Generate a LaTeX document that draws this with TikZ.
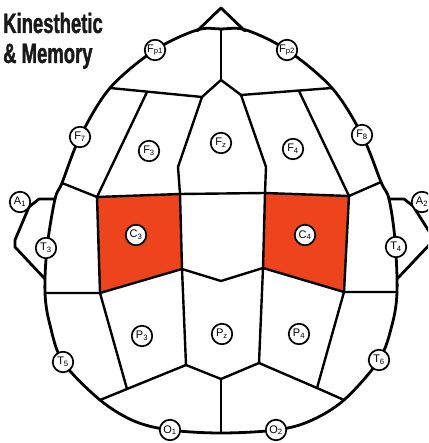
\documentclass[tikz,border=0pt]{standalone}
\usepackage{fontspec}
\setmainfont{Liberation Sans}
\newfontfamily\titleFont[FakeStretch=0.66,FakeBold=1.2]{Liberation Sans}
\usepackage{xcolor}
\usepackage{tikz}
\usetikzlibrary{positioning}
\definecolor{motorRed}{RGB}{238,68,30}
\tikzset{
    headEdge/.style={
        line width=2.8pt,
        line join=round,
        line cap=round
    },
    cellEdge/.style={
        line width=2.4pt,
        line join=round,
        line cap=round
    },
    motorArea/.style={
        cellEdge,
        fill=motorRed
    },
    electrode/.style={
        draw,
        circle,
        line width=1.7pt,
        fill=white,
        minimum size=20.5pt,
        inner sep=0pt,
        font=\fontsize{11}{11}\selectfont
    },
    titleText/.style={
        anchor=base west,
        inner sep=0pt,
        text=black!90,
        font=\titleFont\bfseries\fontsize{28}{30}\selectfont
    }
}

\begin{document}
\begin{tikzpicture}[x=1pt,y=-1pt]
        \useasboundingbox (0,0) rectangle (428,443);
        \clip (0,0) rectangle (428,443);

        \node[titleText] (titleTop) at (3,33) {Kinesthetic};
        \node[titleText] (titleBottom) at (3,63) {\& Memory};

        \filldraw[motorArea] (97,197) -- (180,194) -- (182,269) -- (100,293) -- cycle;
        \filldraw[motorArea] (265,193) -- (349,196) -- (344,292) -- (263,268) -- cycle;

        \draw[headEdge] plot[smooth cycle, tension=0.55] coordinates {
            (221,29) (246,30) (287,50) (332,88) (362,135) (381,182) (389,199)
            (395,240) (397,292) (392,325) (379,360) (344,400) (310,421) (276,430)
            (221,433) (170,430) (134,421) (100,400) (63,362) (50,325) (45,293)
            (47,248) (55,199) (62,183) (80,137) (110,88) (155,50) (197,30)};
        \draw[headEdge] (197,31) -- (221,8) -- (245,31);
        \draw[headEdge] (55,199) -- (39,199) -- (29,207) -- (15,240) -- (15,247) -- (45,279);
        \draw[headEdge] (389,199) -- (404,199) -- (413,206) -- (432,236) -- (432,242) -- (397,279);

        \draw[cellEdge] (221,29) -- (221,80);
        \draw[cellEdge] (110,88) -- (202,97) -- (221,80) -- (241,95) -- (332,88);
        \draw[cellEdge] (202,97) -- (178,167) -- (180,194) -- (265,193) -- (266,167) -- (241,95);
        \draw[cellEdge] (147,92) -- (97,197) -- (62,183);
        \draw[cellEdge] (299,91) -- (349,196) -- (381,182);
        \draw[cellEdge] (182,269) -- (221,281) -- (263,268);
        \draw[cellEdge] (182,269) -- (186,365) -- (221,379) -- (259,363) -- (263,268);
        \draw[cellEdge] (221,379) -- (221,433);
        \draw[cellEdge] (45,293) -- (100,293) -- (127,389) -- (186,365);
        \draw[cellEdge] (127,389) -- (100,400);
        \draw[cellEdge] (397,292) -- (344,292) -- (317,388) -- (259,363);
        \draw[cellEdge] (317,388) -- (344,400);

        \node[electrode] (fp1) at (155,50) {F\textsubscript{p1}};
        \node[electrode] (fp2) at (287,50) {F\textsubscript{p2}};
        \node[electrode] (f7) at (80,137) {F\textsubscript{7}};
        \node[electrode] (f3) at (149,151) {F\textsubscript{3}};
        \node[electrode] (fz) at (221,143) {F\textsubscript{z}};
        \node[electrode] (f4) at (293,149) {F\textsubscript{4}};
        \node[electrode] (f8) at (362,135) {F\textsubscript{8}};
        \node[electrode] (a1) at (20,202) {A\textsubscript{1}};
        \node[electrode] (a2) at (422,202) {A\textsubscript{2}};
        \node[electrode] (t3) at (46,248) {T\textsubscript{3}};
        \node[electrode] (c3) at (136,235) {C\textsubscript{3}};
        \node[electrode] (c4) at (305,235) {C\textsubscript{4}};
        \node[electrode] (t4) at (396,247) {T\textsubscript{4}};
        \node[electrode] (p3) at (142,336) {P\textsubscript{3}};
        \node[electrode] (pz) at (222,334) {P\textsubscript{z}};
        \node[electrode] (p4) at (299,334) {P\textsubscript{4}};
        \node[electrode] (t5) at (63,362) {T\textsubscript{5}};
        \node[electrode] (t6) at (379,360) {T\textsubscript{6}};
        \node[electrode] (o1) at (170,430) {O\textsubscript{1}};
        \node[electrode] (o2) at (276,430) {O\textsubscript{2}};
    \end{tikzpicture}
\end{document}
